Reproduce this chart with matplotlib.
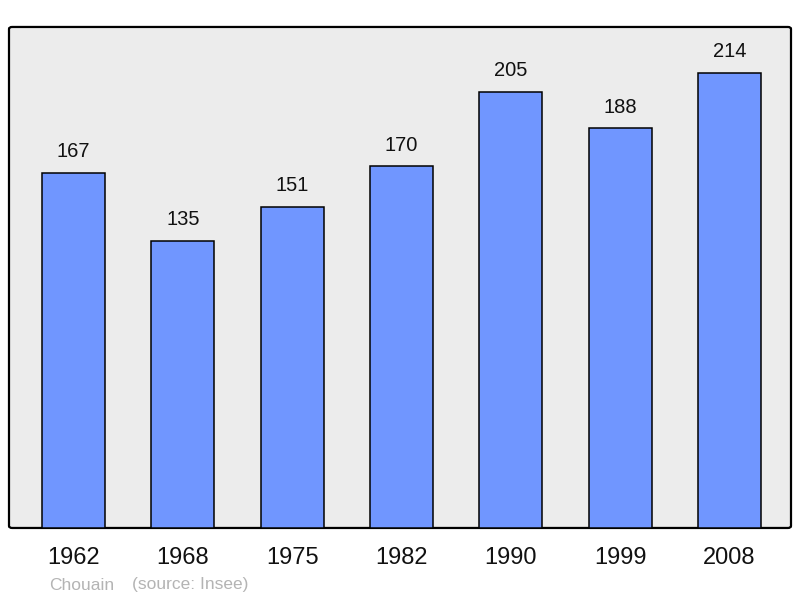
import matplotlib.pyplot as plt
from matplotlib.patches import FancyBboxPatch

plt.rcParams['font.family'] = ['Liberation Sans', 'DejaVu Sans']

# Population data
years = ["1962", "1968", "1975", "1982", "1990", "1999", "2008"]
population = [167, 135, 151, 170, 205, 188, 214]

BAR_COLOR = "#7096ff"
BG_COLOR = "#ececec"

fig = plt.figure(figsize=(8, 5.98), dpi=100)
ax = fig.add_axes([0.01125, 0.1171, 0.9775, 0.8378])

x = range(len(years))
ax.bar(x, population, width=0.576, color=BAR_COLOR, edgecolor="black", linewidth=1.1, zorder=2)

for xi, v in zip(x, population):
    ax.annotate(str(v), (xi, v), xytext=(0, 11), textcoords="offset points",
                ha="center", va="baseline", fontsize=14.5, color="#111111")

ax.set_xlim(-0.59, 6.563)
ax.set_ylim(0, max(population) * 1.1)
ax.set_facecolor("none")
for s in ax.spines.values():
    s.set_visible(False)

# frame with rounded corners
frame = FancyBboxPatch((0, 0), 1, 1, boxstyle="round,pad=0,rounding_size=0.004",
                       transform=ax.transAxes, facecolor=BG_COLOR, edgecolor="black",
                       linewidth=1.6, zorder=0, clip_on=False)
ax.add_patch(frame)

ax.set_xticks(list(x))
ax.set_xticklabels(years, fontsize=17, color="#111111")
ax.tick_params(axis="x", length=0, pad=13.5)
ax.set_yticks([])

fig.text(0.061, 1 - 585 / 598, "Chouain", color="#b4b4b4", fontsize=12.5, va="center")
fig.text(0.165, 1 - 585 / 598, "(source: Insee)", color="#b4b4b4", fontsize=12.5, va="center")

fig.savefig("out.png", dpi=100)
